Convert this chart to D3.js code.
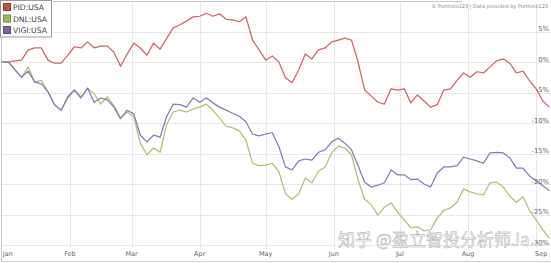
<!DOCTYPE html>
<html>
<head>
<meta charset="utf-8">
<script src="https://cdnjs.cloudflare.com/ajax/libs/d3/7.8.5/d3.min.js"></script>
<style>
  html, body { margin: 0; padding: 0; background: #fff; }
  svg { display: block; font-family: "DejaVu Sans", sans-serif; }
</style>
</head>
<body>
<svg width="551" height="263"></svg>
<script>
// series names and values (% change since Jan 1), one value every 3 days
const names = ["PID:USA", "DNL:USA", "VIGI:USA"];
const colors = ["#c86868", "#a8c474", "#8a78b4"];
const swatch = ["#c0504d", "#9bbb59", "#8064a2"];

const pid = [0, 0, 0.2, 0.3, 2.0, 2.3, 2.3, 0.3, -0.2, -0.2,
  1.1, 2.5, 2.3, 3.3, 2.3, 2.6, 2.6, 1.6, -0.7, 1.3,
  3.1, 2.3, 1.1, 3.1, 2.1, 3.9, 5.6, 6.1, 6.7, 7.4,
  7.5, 8.0, 7.5, 7.9, 7.0, 6.9, 6.6, 7.4, 3.6, 2.0,
  0.3, 1.0, 0, -2.6, -3.4, -1.3, 1.3, 0.5, 2.0, 2.3,
  3.3, 3.6, 3.9, 3.6, 0, -4.6, -5.6, -6.6, -6.9, -4.4,
  -4.6, -4.4, -6.7, -5.4, -6.4, -7.4, -7.0, -4.6, -4.4, -3.0,
  -1.8, -2.5, -1.6, -1.8, -0.8, 0.2, 0.5, -0.2, -1.8, -1.5,
  -3.1, -4.4, -6.4, -7.4];

const dnl = [0, 0, -1.3, -2.5, -0.8, -3.3, -3.0, -4.9, -7.0, -7.9,
  -5.9, -4.6, -5.7, -4.3, -5.2, -6.9, -5.7, -7.2, -9.2, -8.2,
  -9.0, -13.3, -15.2, -14.1, -14.8, -10.2, -8.2, -7.9, -8.2, -7.7,
  -7.4, -6.9, -7.9, -9.2, -10.5, -10.8, -11.3, -12.8, -16.6, -17.0,
  -16.9, -16.6, -18.0, -21.6, -22.5, -21.6, -19.0, -19.8, -17.9, -17.2,
  -14.9, -13.8, -14.1, -15.2, -19.3, -22.5, -23.4, -25.1, -23.8, -23.1,
  -24.6, -25.9, -27.2, -27.0, -27.7, -27.5, -25.6, -24.3, -23.9, -23.0,
  -20.8, -21.3, -21.6, -21.8, -19.8, -19.7, -20.5, -22.0, -23.0, -22.1,
  -24.4, -25.9, -27.5, -28.9];

const vigi = [0, 0, -1.3, -2.5, -1.5, -3.3, -3.6, -4.9, -7.0, -7.9,
  -5.7, -4.6, -5.9, -4.3, -6.6, -5.9, -6.2, -7.4, -9.3, -7.9,
  -8.5, -12.0, -13.1, -12.0, -12.3, -8.9, -6.9, -7.0, -7.4, -5.9,
  -6.6, -5.9, -6.7, -7.4, -7.9, -8.4, -8.9, -9.8, -11.8, -12.1,
  -11.8, -11.6, -13.9, -17.2, -17.7, -16.2, -15.9, -16.1, -14.8, -14.4,
  -13.1, -12.5, -13.3, -14.4, -17.0, -19.7, -20.5, -20.2, -19.8, -17.7,
  -18.5, -18.5, -19.3, -19.2, -20.0, -20.5, -18.2, -17.2, -17.2, -17.0,
  -15.6, -15.9, -16.2, -16.6, -14.9, -14.8, -14.9, -15.7, -17.4, -17.4,
  -18.7, -19.5, -20.3, -21.1];

const yTicks = [5, 0, -5, -10, -15, -20, -25, -30];
const monthNames = ["Jan", "Feb", "Mar", "Apr", "May", "Jun", "Jul", "Aug", "Sep"];

const start = new Date(2021, 0, 1);
const end = new Date(2021, 8, 7);
const dates = d3.timeDay.range(start, new Date(2021, 8, 8), 3);

const width = 551, height = 263;
const svg = d3.select("svg");

const x = d3.scaleTime().domain([start, end]).range([1.8, 549.4]);
const y = d3.scaleLinear().domain([-30, 5]).range([245, 31.5]);

// grid
svg.append("g").selectAll("line").data(yTicks)
  .enter().append("line")
    .attr("x1", 2).attr("x2", width)
    .attr("y1", d => Math.round(y(d)) + 0.5)
    .attr("y2", d => Math.round(y(d)) + 0.5)
    .attr("stroke", "#e8e8e8");

const months = d3.timeMonth.range(new Date(2021, 1, 1), new Date(2021, 8, 2));
svg.append("g").selectAll("line").data(months)
  .enter().append("line")
    .attr("x1", d => Math.round(x(d)) + 0.5)
    .attr("x2", d => Math.round(x(d)) + 0.5)
    .attr("y1", 2).attr("y2", 249)
    .attr("stroke", "#e8e8e8");

// frame
svg.append("line").attr("x1", 1.5).attr("x2", 1.5).attr("y1", 1).attr("y2", 262)
  .attr("stroke", "#c8c8c8");
svg.append("line").attr("x1", 1).attr("x2", 462).attr("y1", 1.5).attr("y2", 1.5)
  .attr("stroke", "#c8c8c8");
svg.append("line").attr("x1", 1).attr("x2", width).attr("y1", 261.5).attr("y2", 261.5)
  .attr("stroke", "#d0d0d0");

// x labels
svg.append("g").selectAll("text").data(d3.timeMonth.range(start, new Date(2021, 8, 2)))
  .enter().append("text")
    .attr("x", d => x(d) + (d.getMonth() === 0 ? 6 : 0) + (d.getMonth() === 8 ? 5 : 0))
    .attr("y", 256)
    .attr("text-anchor", "middle")
    .attr("font-size", "6.5px")
    .attr("fill", "#666")
    .text(d => monthNames[d.getMonth()]);

// series lines
const line = d3.line()
  .x(d => x(d.date))
  .y(d => y(d.v));

[pid, dnl, vigi].forEach((vals, i) => {
  const pts = vals.map((v, j) => ({date: dates[j], v: v}));
  svg.append("path")
    .datum(pts)
    .attr("d", line)
    .attr("fill", "none")
    .attr("stroke", colors[i])
    .attr("stroke-width", 1.25)
    .attr("stroke-linejoin", "round");
});

// y labels on the right
svg.append("g").selectAll("text").data(yTicks)
  .enter().append("text")
    .attr("x", 549)
    .attr("y", d => y(d) - 0.5)
    .attr("text-anchor", "end")
    .attr("font-size", "6.8px")
    .attr("fill", "#666")
    .text(d => d + "%");

// credit
svg.append("text")
  .attr("x", 548).attr("y", 8)
  .attr("text-anchor", "end")
  .attr("font-size", "5px")
  .attr("fill", "#888")
  .text("© Portfolio123 | Data provided by Portfolio123");

// legend
const legend = svg.append("g");
legend.append("rect")
  .attr("x", 0.5).attr("y", 0.5).attr("width", 51).attr("height", 36.5)
  .attr("fill", "#fff").attr("stroke", "#999");
names.forEach((n, i) => {
  legend.append("rect")
    .attr("x", 3.5).attr("y", 3.5 + i * 11.5).attr("width", 7).attr("height", 7)
    .attr("fill", swatch[i]).attr("stroke", d3.color(swatch[i]).darker(0.8));
  legend.append("text")
    .attr("x", 13).attr("y", 10 + i * 11.5)
    .attr("font-size", "7.6px")
    .attr("fill", "#444")
    .text(n);
});

// watermark
svg.append("text")
  .attr("x", 338).attr("y", 246)
  .attr("font-family", "'Noto Sans CJK SC', sans-serif")
  .attr("font-size", "17px")
  .attr("fill", "#fff")
  .attr("fill-opacity", 0.85)
  .attr("stroke", "#aaa")
  .attr("stroke-width", 0.5)
  .text("知乎 @盈立智投分析师Ja...");
</script>
</body>
</html>
